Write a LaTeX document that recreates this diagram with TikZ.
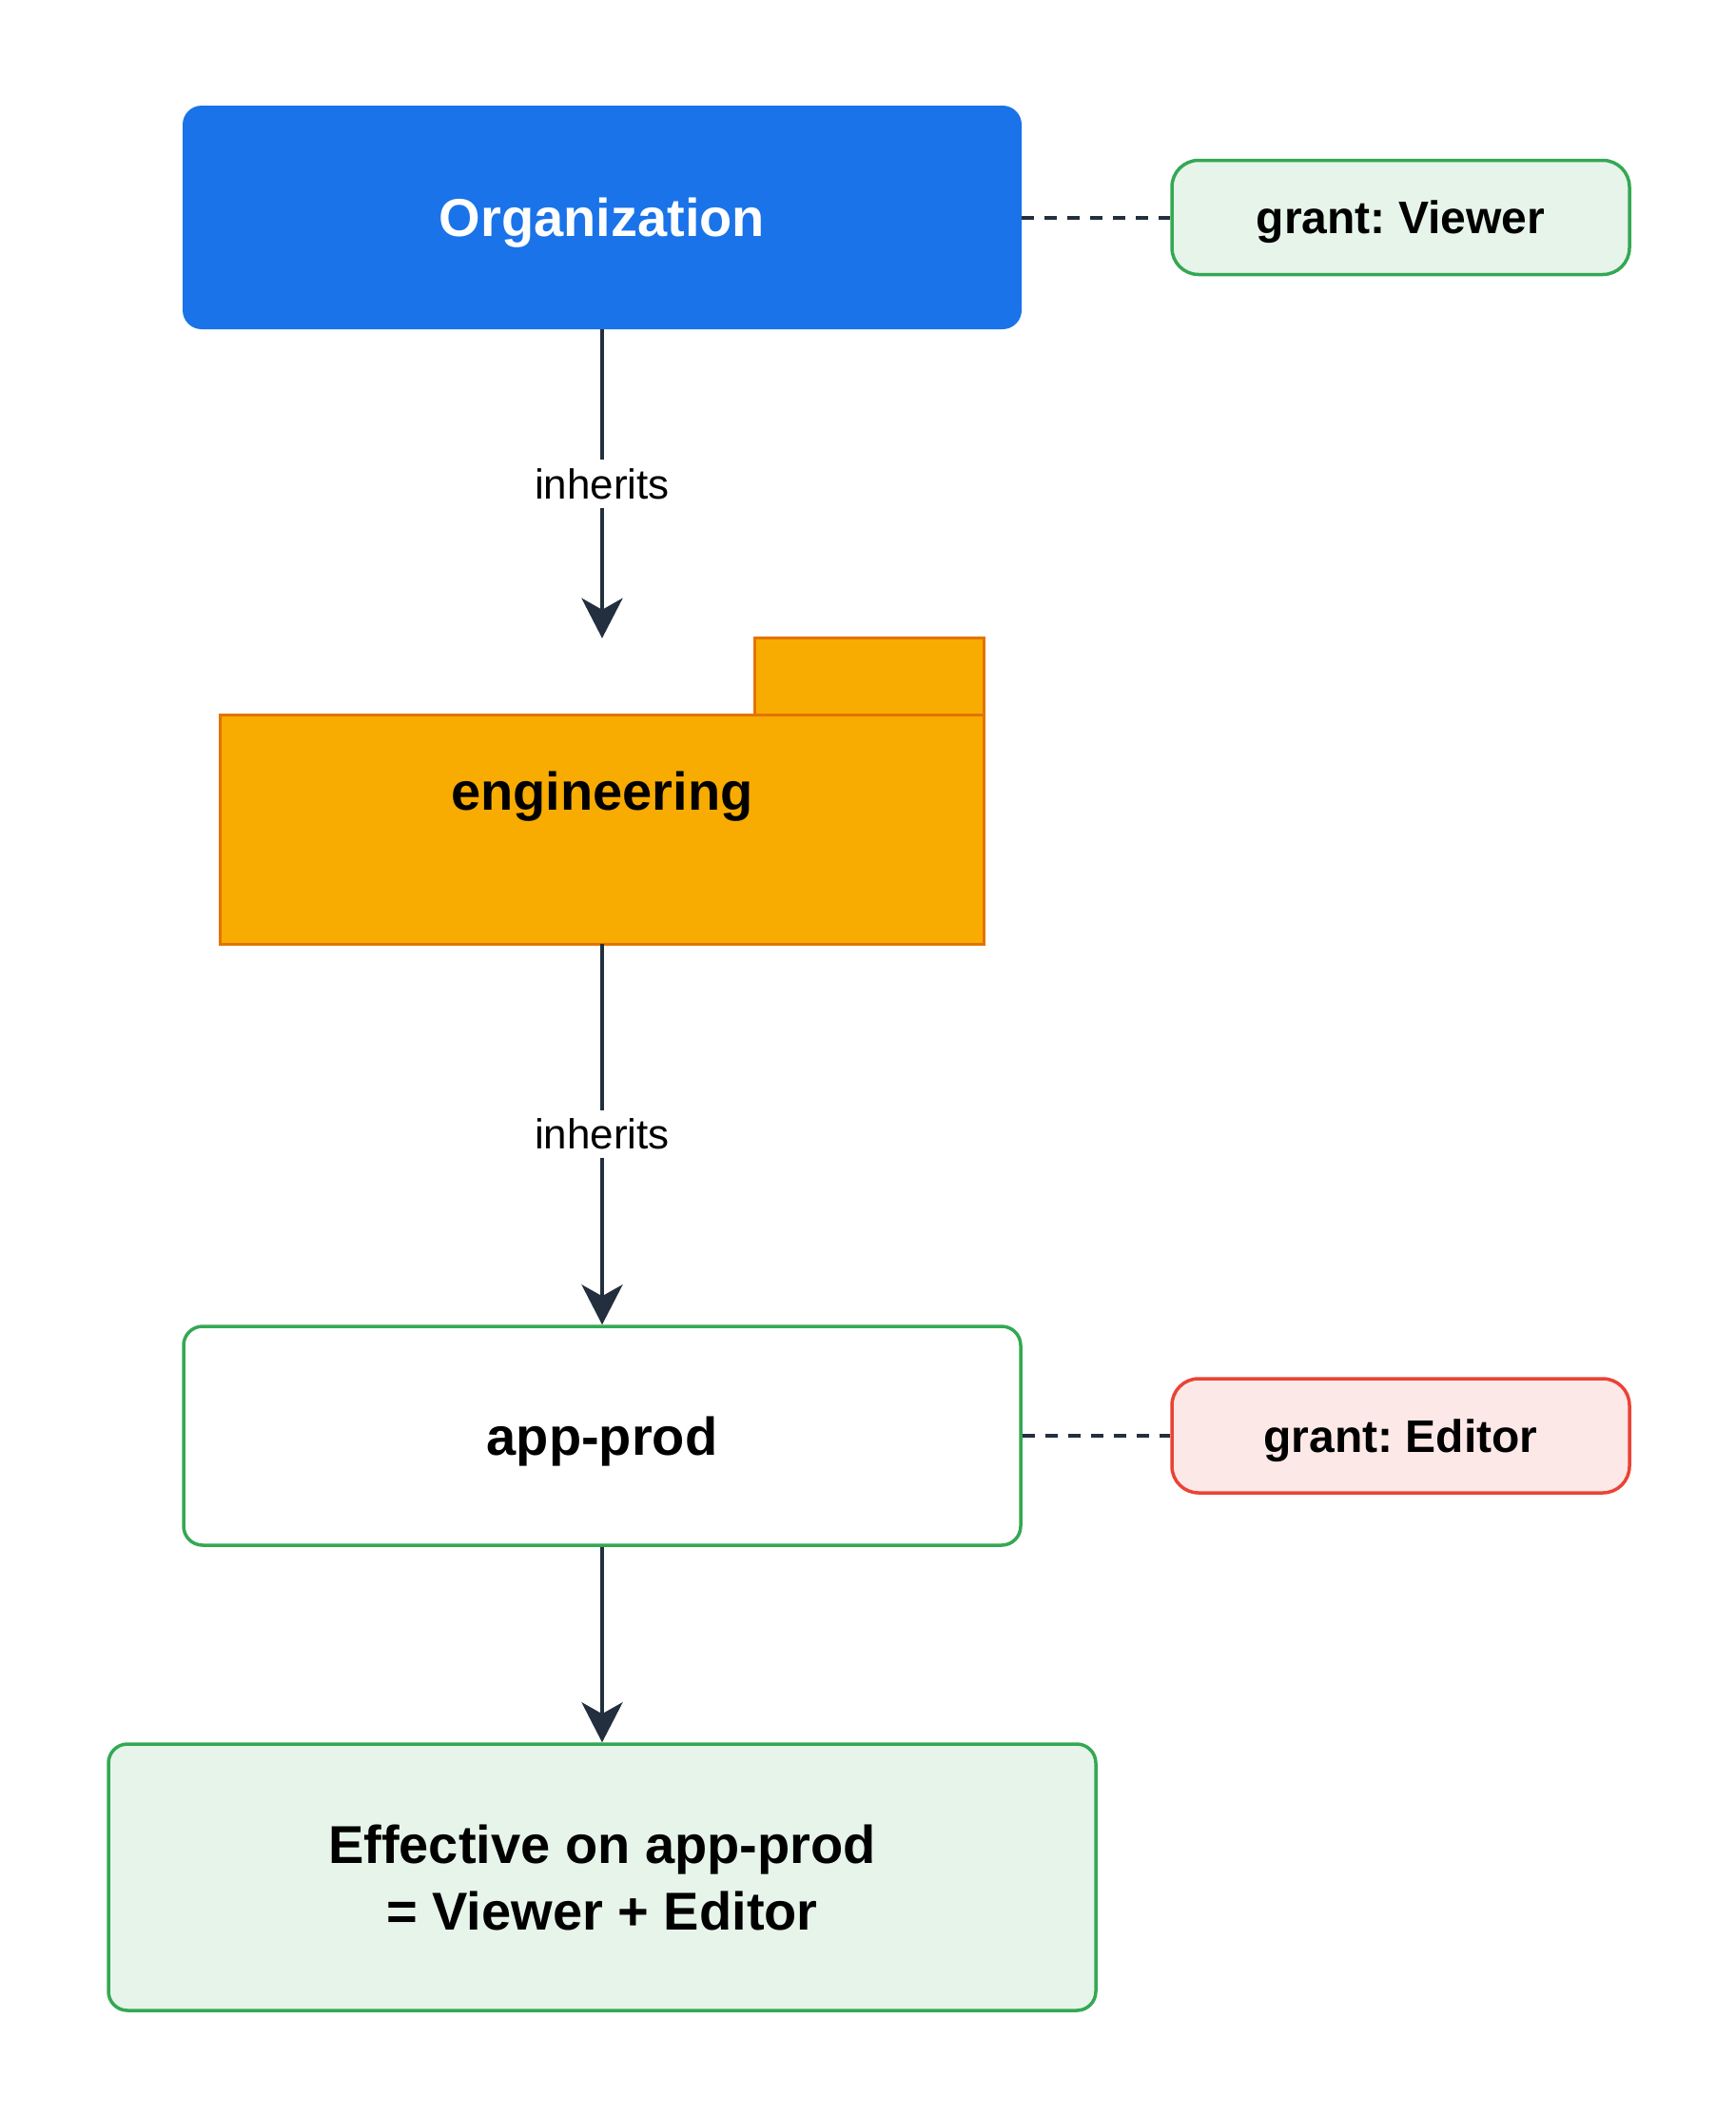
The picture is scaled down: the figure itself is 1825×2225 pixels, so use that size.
\documentclass[tikz,border=0pt]{standalone}
\usepackage{fontspec}
\setmainfont{Liberation Sans}
\usepackage{xcolor}
\usepackage{tikz}
\usetikzlibrary{arrows.meta,positioning,calc,backgrounds}
\definecolor{IamBlue}{HTML}{1A73E8}
\definecolor{IamAmber}{HTML}{F8AB00}
\definecolor{IamAmberEdge}{HTML}{E37400}
\definecolor{IamInk}{HTML}{232F3E}
\definecolor{IamGreen}{HTML}{34A853}
\definecolor{IamGreenFog}{HTML}{E6F4EA}
\definecolor{IamRed}{HTML}{EA4335}
\definecolor{IamRedFog}{HTML}{FCE8E6}
\frenchspacing

\begin{document}
\begin{tikzpicture}[x=1pt,y=-1pt,>={Stealth[length=42pt,width=43pt,inset=12pt]},
    big/.style={font=\fontsize{56}{70}\selectfont\bfseries,align=center,inner sep=0pt},
    oneline/.style={text depth=0pt},
    grantbox/.style={draw,line width=3.5pt,rounded corners=28pt,inner sep=0pt,oneline,
      minimum width=481pt,minimum height=120pt,font=\fontsize{48}{58}\selectfont\bfseries},
    inherit/.style={->,IamInk,line width=4.5pt},
    link/.style={IamInk,line width=4pt,dash pattern=on 13pt off 11pt},
    tag/.style={fill=white,text=black,font=\fontsize{44}{53}\selectfont,inner sep=9pt}]
  \useasboundingbox (0,0) rectangle (1825,2225);

  % Resource hierarchy.
  \node[big,oneline,fill=IamBlue,text=white,rounded corners=20pt,
        minimum width=882pt,minimum height=235pt] (org) at (633,228.5) {Organization};
  \node[big,oneline,minimum width=802pt,minimum height=321pt] (eng) at (633,831.5) {engineering};
  \begin{scope}[on background layer]
    \draw[fill=IamAmber,draw=IamAmberEdge,line width=3pt]
          (eng.south west) rectangle ($(eng.north east)+(0,81)$);
    \draw[fill=IamAmber,draw=IamAmberEdge,line width=3pt]
          ($(eng.north east)+(-241,0)$) rectangle ($(eng.north east)+(0,81)$);
  \end{scope}
  \node[big,oneline,draw=IamGreen,fill=white,line width=3.5pt,rounded corners=20pt,
        minimum width=880pt,minimum height=230pt] (app) at (633,1509) {app-prod};
  \node[big,draw=IamGreen,fill=IamGreenFog,line width=3.5pt,rounded corners=20pt,
        minimum width=1038pt,minimum height=280pt] (eff) at (633,1973)
        {Effective on app-prod\\= Viewer + Editor};

  % Grants.
  \node[grantbox,draw=IamGreen,fill=IamGreenFog] (viewer) at (1472.5,228.5) {grant: Viewer};
  \node[grantbox,draw=IamRed,fill=IamRedFog] (editor) at (1472.5,1509) {grant: Editor};
  \draw[link] (org) -- (viewer);
  \draw[link] (app) -- (editor);

  % Inheritance.
  \draw[inherit] (org) -- node[tag] {inherits} (eng);
  \draw[inherit] (eng) -- node[tag] {inherits} (app);
  \draw[inherit] (app) -- (eff);
\end{tikzpicture}
\end{document}
